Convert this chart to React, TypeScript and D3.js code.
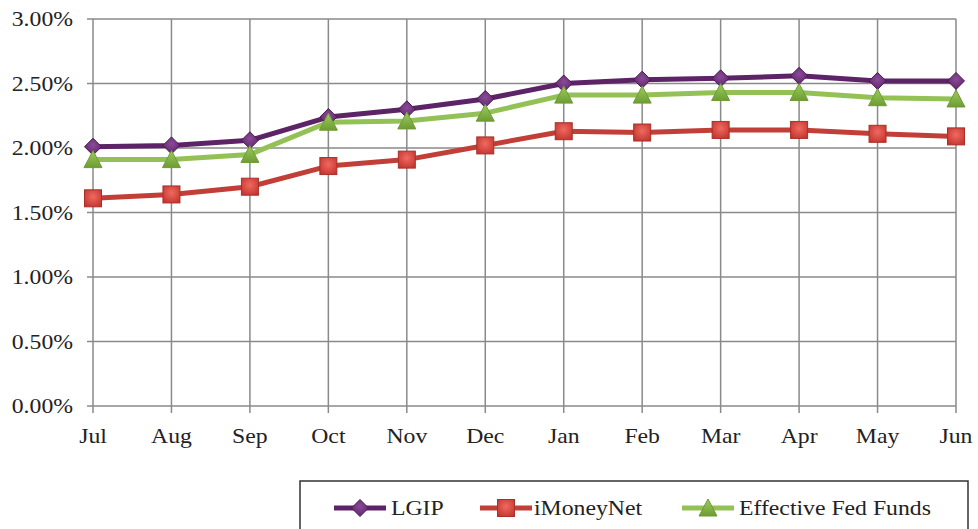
import React from "react";
import * as d3 from "d3";

const months = ["Jul", "Aug", "Sep", "Oct", "Nov", "Dec", "Jan", "Feb", "Mar", "Apr", "May", "Jun"];
const lgip = [2.01, 2.02, 2.06, 2.24, 2.3, 2.38, 2.5, 2.53, 2.54, 2.56, 2.52, 2.52];
const imoneynet = [1.61, 1.64, 1.7, 1.86, 1.91, 2.02, 2.13, 2.12, 2.14, 2.14, 2.11, 2.09];
const fedFunds = [1.91, 1.91, 1.95, 2.2, 2.21, 2.27, 2.41, 2.41, 2.43, 2.43, 2.39, 2.38];
const yTicks = [0, 0.5, 1.0, 1.5, 2.0, 2.5, 3.0];

const W = 978;
const H = 529;
const FONT = "'Liberation Serif', 'Times New Roman', serif";
const SX = 1.13;

export default function App() {
  const x = d3.scalePoint<string>().domain(months).range([93, 956]);
  const y = d3.scaleLinear().domain([0, 3]).range([406, 19]);
  const line = d3
    .line<number>()
    .x((_, i) => x(months[i]) as number)
    .y((d) => y(d));

  const series = [
    { name: "LGIP", data: lgip, color: "#5d2367", marker: "diamond" },
    { name: "iMoneyNet", data: imoneynet, color: "#c23f38", marker: "square" },
    { name: "Effective Fed Funds", data: fedFunds, color: "#94c156", marker: "triangle" },
  ];

  const marker = (type: string, cx: number, cy: number, key: string) => {
    if (type === "diamond") {
      const r = 8.5;
      return (
        <path
          key={key}
          d={`M${cx},${cy - r}L${cx + r},${cy}L${cx},${cy + r}L${cx - r},${cy}Z`}
          fill="url(#gDiamond)"
          stroke="#4a1853"
          strokeWidth={1}
        />
      );
    }
    if (type === "square") {
      const s = 17;
      return (
        <rect
          key={key}
          x={cx - s / 2}
          y={cy - s / 2}
          width={s}
          height={s}
          fill="url(#gSquare)"
          stroke="#a8302a"
          strokeWidth={1}
        />
      );
    }
    const h = 16;
    const w = 9;
    return (
      <path
        key={key}
        d={`M${cx},${cy - h / 2 - 1}L${cx + w},${cy + h / 2}L${cx - w},${cy + h / 2}Z`}
        fill="url(#gTri)"
        stroke="#6f9a35"
        strokeWidth={1}
      />
    );
  };

  const legendItems = [
    { s: series[0], lx: 334, tx: 391 },
    { s: series[1], lx: 480, tx: 534 },
    { s: series[2], lx: 682, tx: 739 },
  ];

  return (
    <svg
      width={W}
      height={H}
      style={{ position: "absolute", left: 0, top: 0, background: "#fff" }}
    >
      <defs>
        <radialGradient id="gSquare" cx="50%" cy="40%" r="70%">
          <stop offset="0%" stopColor="#ef6a60" />
          <stop offset="100%" stopColor="#c2322c" />
        </radialGradient>
        <radialGradient id="gDiamond" cx="50%" cy="40%" r="70%">
          <stop offset="0%" stopColor="#8a4a98" />
          <stop offset="100%" stopColor="#5a2266" />
        </radialGradient>
        <linearGradient id="gTri" x1="0" y1="0" x2="0" y2="1">
          <stop offset="0%" stopColor="#9ccc5c" />
          <stop offset="100%" stopColor="#6e9c34" />
        </linearGradient>
      </defs>

      {yTicks.map((t) => (
        <line
          key={"h" + t}
          x1={87}
          x2={956}
          y1={y(t)}
          y2={y(t)}
          stroke="#8a8a8a"
          strokeWidth={1.5}
        />
      ))}
      {months.map((m) => (
        <line
          key={"v" + m}
          x1={x(m)}
          x2={x(m)}
          y1={y(3)}
          y2={y(0) + 7}
          stroke="#8a8a8a"
          strokeWidth={1.5}
        />
      ))}

      {yTicks.map((t) => (
        <text
          key={"yl" + t}
          transform={`translate(73,${y(t) + 7}) scale(${SX},1)`}
          textAnchor="end"
          fontFamily={FONT}
          fontSize={21}
          fill="#222"
        >
          {t.toFixed(2) + "%"}
        </text>
      ))}
      {months.map((m) => (
        <text
          key={"xl" + m}
          transform={`translate(${x(m)},443) scale(${SX},1)`}
          textAnchor="middle"
          fontFamily={FONT}
          fontSize={21}
          fill="#222"
        >
          {m}
        </text>
      ))}

      {series.map((s) => (
        <path
          key={"l" + s.name}
          d={line(s.data) || ""}
          fill="none"
          stroke={s.color}
          strokeWidth={5}
          strokeLinejoin="round"
        />
      ))}
      {series.map((s) =>
        s.data.map((v, i) => marker(s.marker, x(months[i]) as number, y(v), s.name + i))
      )}

      <rect x={300} y={481} width={668} height={70} fill="#fff" stroke="#333" strokeWidth={1.5} />
      {legendItems.map(({ s, lx, tx }) => (
        <g key={"lg" + s.name}>
          <line x1={lx} x2={lx + 52} y1={508} y2={508} stroke={s.color} strokeWidth={5} />
          {marker(s.marker, lx + 26, 508, "lm" + s.name)}
          <text
            transform={`translate(${tx},515) scale(${SX},1)`}
            fontFamily={FONT}
            fontSize={21}
            fill="#222"
          >
            {s.name}
          </text>
        </g>
      ))}
    </svg>
  );
}
